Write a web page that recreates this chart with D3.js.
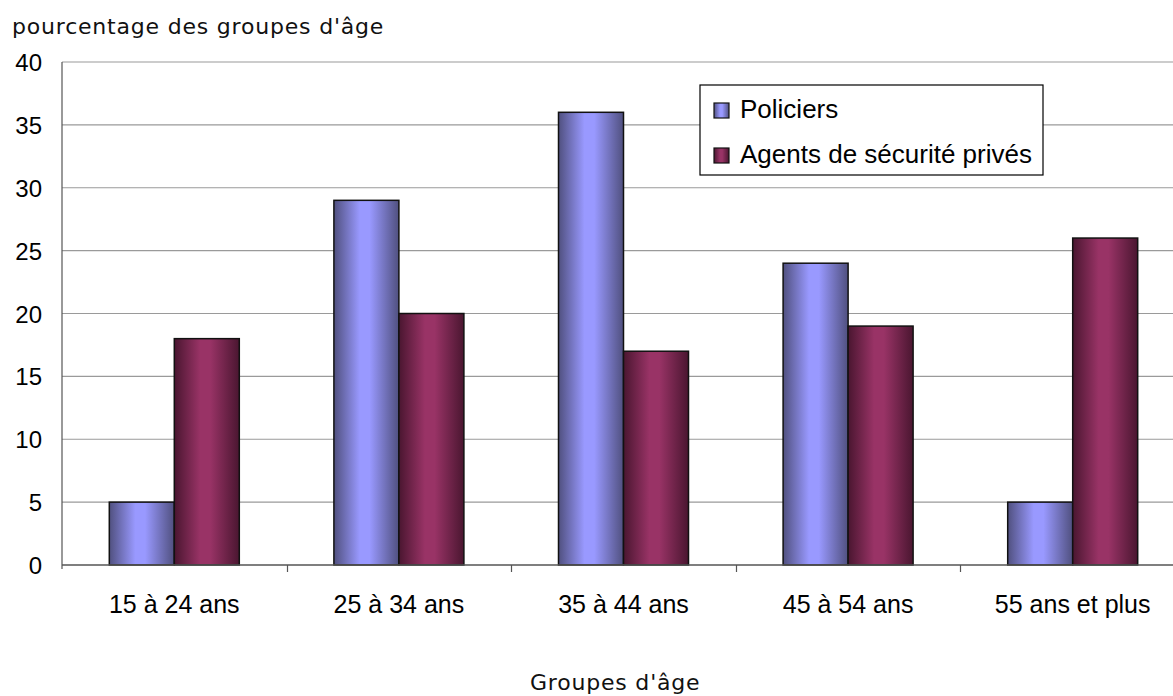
<!DOCTYPE html>
<html>
<head>
<meta charset="utf-8">
<script src="https://cdn.jsdelivr.net/npm/d3@7.9.0/dist/d3.min.js"></script>
<style>
  body { margin: 0; background: #fff; }
  svg { display: block; }
</style>
</head>
<body>
<svg id="chart" width="1173" height="696"></svg>
<script>
const categories = ['15 à 24 ans', '25 à 34 ans', '35 à 44 ans', '45 à 54 ans', '55 ans et plus'];
const seriesNames = ['Policiers', 'Agents de sécurité privés'];
const policiers = [5, 29, 36, 24, 5];
const agents = [18, 20, 17, 19, 26];
const yTicks = [0, 5, 10, 15, 20, 25, 30, 35, 40];

const W = 1173, H = 696;
const plot = { left: 62, right: 1185, top: 62, bottom: 565 };
const sans = 'Liberation Sans, Arial, sans-serif';
const verd = 'DejaVu Sans, Verdana, sans-serif';

const svg = d3.select('#chart');

// gradients: dark edges, light centre
const palette = [
  { id: 'gPol', edge: '#50507f', mid: '#9999ff' },
  { id: 'gAg', edge: '#4a1630', mid: '#993366' },
];
const defs = svg.append('defs');
palette.forEach((p) => {
  const g = defs.append('linearGradient').attr('id', p.id)
    .attr('x1', '0%').attr('x2', '100%').attr('y1', '0%').attr('y2', '0%');
  g.append('stop').attr('offset', '0%').attr('stop-color', p.edge);
  g.append('stop').attr('offset', '40%').attr('stop-color', p.mid);
  g.append('stop').attr('offset', '55%').attr('stop-color', p.mid);
  g.append('stop').attr('offset', '100%').attr('stop-color', p.edge);
});

const x = d3.scaleBand().domain(categories).range([plot.left, plot.right]);
const xInner = d3.scaleBand().domain(seriesNames).range([0, 130]);
const y = d3.scaleLinear().domain([0, 40]).range([plot.bottom, plot.top]);

// gridlines
svg.append('g')
  .selectAll('line')
  .data(yTicks.filter((t) => t > 0))
  .join('line')
  .attr('x1', plot.left).attr('x2', W)
  .attr('y1', (d) => y(d)).attr('y2', (d) => y(d))
  .attr('stroke', '#9a9a9a').attr('stroke-width', 1.2);

// y tick labels
svg.append('g')
  .selectAll('text')
  .data(yTicks)
  .join('text')
  .attr('x', 42).attr('y', (d) => y(d) + 9)
  .attr('text-anchor', 'end')
  .attr('font-family', sans)
  .attr('font-size', 24)
  .attr('fill', '#000')
  .text((d) => d);

// bars
const rows = categories.map((c, i) => ({ cat: c, vals: [policiers[i], agents[i]] }));
const groups = svg.append('g')
  .selectAll('g')
  .data(rows)
  .join('g')
  .attr('transform', (d) => `translate(${x(d.cat) + (x.bandwidth() - 130) / 2},0)`);

groups.selectAll('rect')
  .data((d) => d.vals.map((v, j) => ({ name: seriesNames[j], v, j })))
  .join('rect')
  .attr('x', (d) => xInner(d.name))
  .attr('width', xInner.bandwidth())
  .attr('y', (d) => y(d.v))
  .attr('height', (d) => y(0) - y(d.v))
  .attr('fill', (d) => `url(#${palette[d.j].id})`)
  .attr('stroke', '#111')
  .attr('stroke-width', 1.5);

// axes lines
svg.append('line')
  .attr('x1', plot.left).attr('x2', plot.left)
  .attr('y1', plot.top).attr('y2', plot.bottom + 4)
  .attr('stroke', '#555').attr('stroke-width', 1.2);
svg.append('line')
  .attr('x1', plot.left).attr('x2', W)
  .attr('y1', plot.bottom).attr('y2', plot.bottom)
  .attr('stroke', '#555').attr('stroke-width', 1.5);

// x ticks between categories
svg.append('g')
  .selectAll('line')
  .data(categories.slice(1))
  .join('line')
  .attr('x1', (d) => Math.round(x(d)) + 0.5).attr('x2', (d) => Math.round(x(d)) + 0.5)
  .attr('y1', plot.bottom).attr('y2', plot.bottom + 7)
  .attr('stroke', '#555').attr('stroke-width', 1.2);

// x labels
svg.append('g')
  .selectAll('text')
  .data(categories)
  .join('text')
  .attr('x', (d) => x(d) + x.bandwidth() / 2)
  .attr('y', 613)
  .attr('text-anchor', 'middle')
  .attr('font-family', sans)
  .attr('font-size', 25)
  .attr('fill', '#000')
  .text((d) => d);

// titles
svg.append('text')
  .attr('x', 12).attr('y', 34)
  .attr('font-family', verd)
  .attr('font-size', 22)
  .attr('letter-spacing', 0.8)
  .attr('fill', '#111')
  .text("pourcentage des groupes d'âge");

svg.append('text')
  .attr('x', 530).attr('y', 690)
  .attr('font-family', verd)
  .attr('font-size', 22)
  .attr('letter-spacing', 0.8)
  .attr('fill', '#111')
  .text("Groupes d'âge");

// legend
const legend = svg.append('g').attr('transform', 'translate(700,85)');
legend.append('rect')
  .attr('width', 343).attr('height', 90)
  .attr('fill', '#fff').attr('stroke', '#000').attr('stroke-width', 1.2);
const items = legend.selectAll('g.item')
  .data(seriesNames)
  .join('g')
  .attr('class', 'item')
  .attr('transform', (d, i) => `translate(14,${33 + i * 45})`);
items.append('rect')
  .attr('x', 0).attr('y', -15)
  .attr('width', 15).attr('height', 15)
  .attr('fill', (d, i) => `url(#${palette[i].id})`)
  .attr('stroke', '#111').attr('stroke-width', 1.2);
items.append('text')
  .attr('x', 26).attr('y', 0)
  .attr('font-family', sans)
  .attr('font-size', 26)
  .attr('fill', '#000')
  .text((d) => d);
</script>
</body>
</html>
